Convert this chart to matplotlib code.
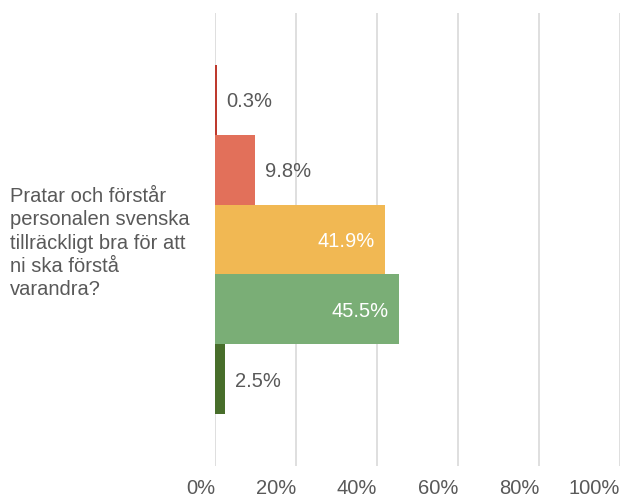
import matplotlib.pyplot as plt

# data
question = "Pratar och förstår\npersonalen svenska\ntillräckligt bra för att\nni ska förstå\nvarandra?"
values = [0.3, 9.8, 41.9, 45.5, 2.5]
colors = ["#BE3A2E", "#E2705A", "#F1B853", "#7AAE76", "#486E2B"]
inside = [False, False, True, True, False]
xticks = [0, 20, 40, 60, 80, 100]
xticklabels = ["0%", "20%", "40%", "60%", "80%", "100%"]

plt.rcParams['font.family'] = ['Liberation Sans', 'DejaVu Sans']
grey = "#595959"
fs = 14.5

fig = plt.figure(figsize=(6.21, 4.98), dpi=100)
ax = fig.add_axes([215.3 / 621, 1 - 466 / 498, (620 - 215.3) / 621, (466 - 13) / 498])

pos = list(range(len(values)))
ax.barh(pos, values, height=1.0, color=colors, zorder=3)

for p, v, ins in zip(pos, values, inside):
    lab = f"{v:.1f}%"
    if ins:
        ax.annotate(lab, (v, p), xytext=(-7.5, -1.5), textcoords="offset points",
                    ha="right", va="center", color="white", fontsize=fs, zorder=4)
    else:
        ax.annotate(lab, (v, p), xytext=(7, -1.5), textcoords="offset points",
                    ha="left", va="center", color=grey, fontsize=fs, zorder=4)

ax.set_xlim(0, 100)
ax.set_ylim(4.5 + 0.745, -0.5 - 0.745)
ax.set_xticks(xticks)
ax.set_xticklabels(xticklabels, ha="right", color=grey, fontsize=fs)
ax.tick_params(axis="x", length=0, pad=9)
ax.set_yticks([])
ax.grid(axis="x", color="#D9D9D9", linewidth=1.2, zorder=0)
for s in ax.spines.values():
    s.set_visible(False)

fig.text(10 / 621, 1 - 243 / 498, question, ha="left", va="center",
         color=grey, fontsize=fs, linespacing=1.27)

fig.savefig("out.png", dpi=100)
